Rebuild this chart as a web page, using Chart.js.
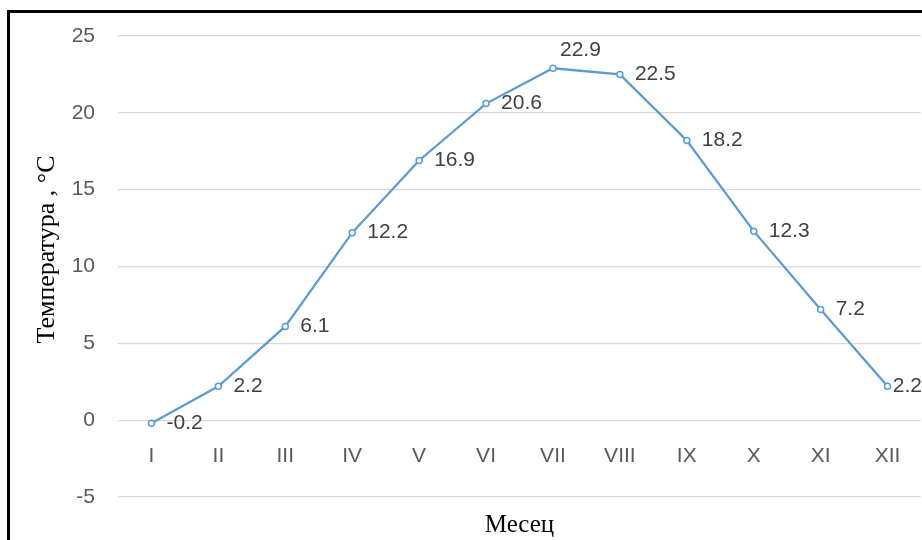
<!DOCTYPE html>
<html>
<head>
<meta charset="utf-8">
<script src="https://cdn.jsdelivr.net/npm/chart.js@4/dist/chart.umd.min.js"></script>
<style>
  html, body { margin: 0; padding: 0; background: #fff; }
  #wrap { position: relative; width: 922px; height: 540px; overflow: hidden; }
  #frame { position: absolute; left: 7px; top: 10px; width: 940px; height: 560px;
           border-top: 3px solid #000; border-left: 3px solid #000; pointer-events: none; }
  canvas { position: absolute; left: 0; top: 0; }
</style>
</head>
<body>
<div id="wrap">
  <canvas id="c" width="922" height="540"></canvas>
  <div id="frame"></div>
</div>
<script>
// ---- data ----
const months = ['I', 'II', 'III', 'IV', 'V', 'VI', 'VII', 'VIII', 'IX', 'X', 'XI', 'XII'];
const temperature = [-0.2, 2.2, 6.1, 12.2, 16.9, 20.6, 22.9, 22.5, 18.2, 12.3, 7.2, 2.2];
const yTicks = [-5, 0, 5, 10, 15, 20, 25];
const xTitle = 'Месец';
const yTitle = 'Температура , °C';
// label placement style per point
const labelPlace = ['right','right','right','right','right','right','aboveRight','right','right','right','right','right'];

const SANS = '"Liberation Sans", Arial, sans-serif';
const SERIF = '"Liberation Serif", "Times New Roman", serif';

const labelPlugin = {
  id: 'pointLabels',
  afterDatasetsDraw(chart) {
    const ctx = chart.ctx;
    const meta = chart.getDatasetMeta(0);
    const ds = chart.data.datasets[0];
    ctx.save();
    ctx.font = '21px ' + SANS;
    ctx.fillStyle = '#404040';
    ctx.textBaseline = 'middle';
    ctx.textAlign = 'left';
    meta.data.forEach((pt, i) => {
      const txt = ds.data[i].toFixed(1);
      const w = ctx.measureText(txt).width;
      let x = pt.x + 15, y = pt.y;
      if (labelPlace[i] === 'aboveRight') { x = pt.x + 7; y = pt.y - 18; }
      if (x + w > chart.width) x = chart.width - w;
      ctx.fillText(txt, x, y);
    });
    ctx.restore();
  }
};

// y-axis title, drawn rotated left of the value axis
const yTitlePlugin = {
  id: 'yTitle',
  afterDraw(chart) {
    const ctx = chart.ctx;
    const a = chart.chartArea;
    ctx.save();
    ctx.font = '26px ' + SERIF;
    ctx.fillStyle = '#000';
    ctx.textAlign = 'center';
    ctx.textBaseline = 'middle';
    ctx.translate(47, (a.top + a.bottom) / 2 - 17);
    ctx.rotate(-Math.PI / 2);
    ctx.fillText(yTitle, 0, 0);
    ctx.restore();
  }
};

function noSidePad(s) { s.paddingLeft = 0; s.paddingRight = 0; }

new Chart(document.getElementById('c'), {
  type: 'line',
  data: {
    labels: months,
    datasets: [{
      data: temperature,
      borderColor: '#5B9BD5',
      borderWidth: 2.25,
      tension: 0,
      pointRadius: 3,
      pointBorderWidth: 1.5,
      pointBackgroundColor: '#ffffff',
      pointBorderColor: '#5B9BD5',
      xAxisID: 'x',
      yAxisID: 'y'
    }]
  },
  options: {
    responsive: false,
    animation: false,
    events: [],
    layout: { autoPadding: false, padding: { top: 36, right: 1, left: 0, bottom: 0 } },
    plugins: { legend: { display: false }, tooltip: { enabled: false } },
    scales: {
      x: {
        type: 'category',
        position: { y: 0 },
        offset: true,
        grid: { display: false, drawTicks: false },
        border: { display: false },
        ticks: { color: '#595959', font: { family: SANS, size: 21 }, padding: 23, maxRotation: 0, autoSkip: false },
        afterFit: noSidePad
      },
      x2: {
        type: 'category',
        position: 'bottom',
        grid: { display: false, drawTicks: false },
        border: { display: false },
        ticks: { display: false },
        title: { display: true, text: xTitle, color: '#000', font: { family: SERIF, size: 25 }, padding: { top: 18, bottom: 0 } },
        afterFit(s) { s.height = 43; noSidePad(s); }
      },
      y: {
        min: -5, max: 25,
        afterBuildTicks(s) { s.ticks = yTicks.map(v => ({ value: v })); },
        grid: { color: '#D9D9D9', lineWidth: 1.3, drawTicks: false },
        border: { display: false },
        ticks: { color: '#595959', font: { family: SANS, size: 21 }, padding: 23 },
        afterFit(s) { s.width = 118; }
      }
    }
  },
  plugins: [labelPlugin, yTitlePlugin]
});
</script>
</body>
</html>
